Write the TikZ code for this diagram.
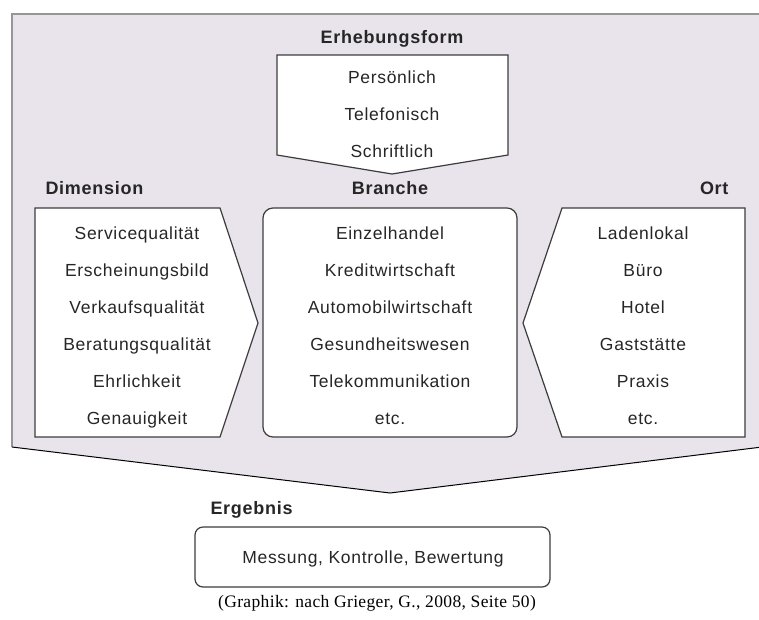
\documentclass[tikz,border=0pt]{standalone}
\usepackage{fontspec}
\setmainfont{Liberation Sans}
\newfontfamily\diagfont[LetterSpace=4]{Liberation Sans}
\newfontfamily\captionfont[LetterSpace=2]{Liberation Serif}
\usepackage{tikz}
\definecolor{panelgray}{RGB}{233,227,235}
\definecolor{framegray}{RGB}{150,150,150}
\definecolor{boxline}{RGB}{60,60,60}
\tikzset{
  item/.style={font=\diagfont\fontsize{17.5}{20}\selectfont, text=black!85,
               text height=12.5pt, text depth=3.5pt},
  heading/.style={font=\diagfont\fontsize{18}{20}\selectfont\bfseries, text=black!85,
               text height=13pt, text depth=4pt},
  box/.style={draw=boxline, line width=1.2pt, fill=white}
}

\begin{document}
\begin{tikzpicture}[x=1pt,y=-1pt]
            \useasboundingbox (0,0) rectangle (759,619);
            % outer panel
            \fill[panelgray] (12,14) -- (762,14) -- (762,447) -- (390,493) -- (12,447) -- cycle;
            \draw[framegray, line width=1.5pt] (12,447) -- (12,14) -- (762,14);
            \draw[black, line width=1pt] (12,447) -- (390,493) -- (762,447);
            % Erhebungsform
            \node[heading] (form) at (392,39) {Erhebungsform};
            \draw[box] (277,55) -- (508,55) -- (508,155) -- (392,174) -- (277,155) -- cycle;
            \foreach \t [count=\i] in {Persönlich, Telefonisch, Schriftlich} {
                \node[item] (form\i) at (392, 42+37*\i) {\t};
            }
            % Dimension
            \node[heading, anchor=west] (dim) at (42,190) {Dimension};
            \draw[box] (35,208) -- (220,208) -- (258,323) -- (220,437) -- (35,437) -- cycle;
            \foreach \t [count=\i] in {Servicequalität, Erscheinungsbild, Verkaufsqualität,
                                       Beratungsqualität, Ehrlichkeit, Genauigkeit} {
                \node[item] (dim\i) at (137, 198+37*\i) {\t};
            }
            % Branche
            \node[heading] (branche) at (390,190) {Branche};
            \draw[box, rounded corners=10pt] (263,208) rectangle (517,437);
            \foreach \t [count=\i] in {Einzelhandel, Kreditwirtschaft, Automobilwirtschaft,
                                       Gesundheitswesen, Telekommunikation, etc.} {
                \node[item] (branche\i) at (390, 198+37*\i) {\t};
            }
            % Ort
            \node[heading, anchor=east] (ort) at (732,190) {Ort};
            \draw[box] (562,208) -- (745,208) -- (745,437) -- (562,437) -- (523,323) -- cycle;
            \foreach \t [count=\i] in {Ladenlokal, Büro, Hotel, Gaststätte, Praxis, etc.} {
                \node[item] (ort\i) at (643, 198+37*\i) {\t};
            }
            % Ergebnis
            \node[heading, anchor=west] (erg) at (207,510) {Ergebnis};
            \draw[box, rounded corners=8pt] (195,527) rectangle (550,587);
            \node[item] (erg1) at (373,559) {Messung, Kontrolle, Bewertung};
            \node[font=\captionfont\fontsize{17.5}{20}\selectfont] (quelle) at (377,603)
                {(Graphik: nach Grieger, G., 2008, Seite 50)};
        \end{tikzpicture}
\end{document}
